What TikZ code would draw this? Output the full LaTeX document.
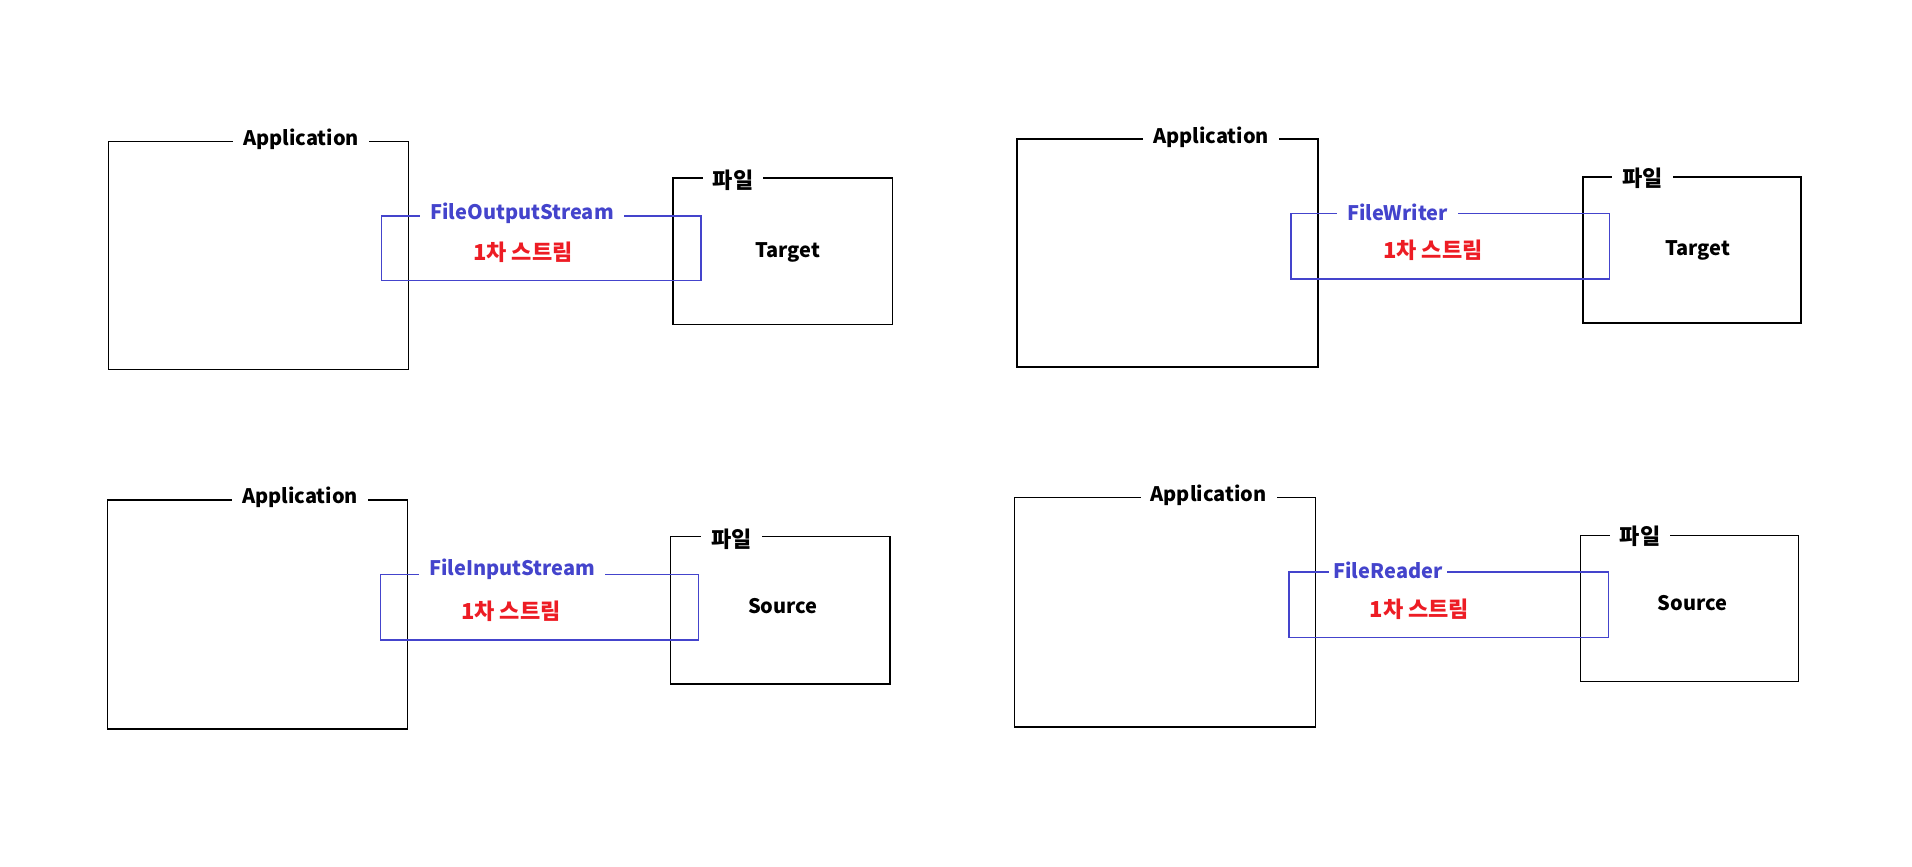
\documentclass[tikz,border=0pt]{standalone}
\usepackage{fontspec}
\setmainfont{Noto Sans CJK KR}
\usepackage{tikz}

\definecolor{streamblue}{RGB}{68,68,204}
\definecolor{streamred}{RGB}{237,28,36}

\begin{document}
\begin{tikzpicture}[x=0.5pt,y=-0.5pt,
		box/.style={draw=black,line width=0.55pt},
		pipe/.style={draw=streamblue,line width=0.55pt},
		lbl/.style={inner sep=0pt,font=\bfseries\fontsize{10}{12}\selectfont},
		hangul/.style={inner sep=0pt,font=\bfseries\fontsize{11}{13}\selectfont},
		title/.style={lbl,fill=white,inner xsep=5pt,inner ysep=1pt},
		filetitle/.style={hangul,fill=white,inner xsep=5pt,inner ysep=1pt},
		kind/.style={hangul,text=streamred},
		cls/.style={title,text=streamblue}]
		\useasboundingbox (0,0) rectangle (1912,867);
		% FileOutputStream
		\draw [box] (108.5,141.5) rectangle (408.5,369.5);
		\draw [box] (673,178) rectangle (892.5,324.5);
		\draw [pipe] (381.5,216) rectangle (701,280.5);
		\node [title] (appA) at (301,139) {Application};
		\node [filetitle] (fileA) at (733,180) {파일};
		\node [cls] (strA) at (522,213.5) {FileOutputStream};
		\node [kind] (kindA) at (523,252.5) {1차 스트림};
		\node [lbl] (tgtA) at (787.5,252.5) {Target};
		% FileWriter
		\draw [box] (1017,139) rectangle (1318,367);
		\draw [box] (1583,177) rectangle (1801,323);
		\draw [pipe] (1291,213.5) rectangle (1609.5,279);
		\node [title] (appB) at (1211,137) {Application};
		\node [filetitle] (fileB) at (1642.5,178) {파일};
		\node [cls] (strB) at (1397.5,212) {FileWriter};
		\node [kind] (kindB) at (1433,250) {1차 스트림};
		\node [lbl] (tgtB) at (1697.5,250) {Target};
		% FileInputStream
		\draw [box] (107.5,500) rectangle (407.5,729);
		\draw [box] (670.5,536.5) rectangle (890,684);
		\draw [pipe] (380.5,574.5) rectangle (698.5,640);
		\node [title] (appC) at (300,497.5) {Application};
		\node [filetitle] (fileC) at (731.5,539) {파일};
		\node [cls] (strC) at (512,569.5) {FileInputStream};
		\node [kind] (kindC) at (511,611) {1차 스트림};
		\node [lbl] (srcC) at (783,606) {Source};
		% FileReader
		\draw [box] (1014.5,497.5) rectangle (1315.5,727);
		\draw [box] (1580.5,535.5) rectangle (1798.5,681.5);
		\draw [pipe] (1289,572) rectangle (1608.5,637.5);
		\node [title] (appD) at (1208.5,495) {Application};
		\node [filetitle] (fileD) at (1640,536.5) {파일};
		\node [cls,inner xsep=2pt] (strD) at (1388,570.5) {FileReader};
		\node [kind] (kindD) at (1419.5,609.5) {1차 스트림};
		\node [lbl] (srcD) at (1692.5,603.5) {Source};
\end{tikzpicture}
\end{document}
